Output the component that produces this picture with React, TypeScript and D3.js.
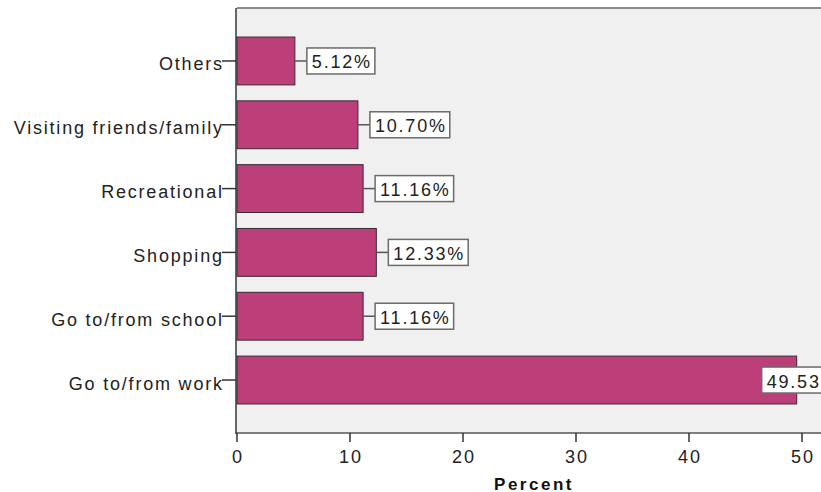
import React from "react";
import * as d3 from "d3";

const categories = [
  "Others",
  "Visiting friends/family",
  "Recreational",
  "Shopping",
  "Go to/from school",
  "Go to/from work",
];
const values = [5.12, 10.7, 11.16, 12.33, 11.16, 49.53];
const xTicks = [0, 10, 20, 30, 40, 50];

const W = 821;
const H = 492;
const FONT = "'Liberation Sans', Arial, sans-serif";
const FS = 18;
const LS = 1.8;

function measure(text: string, bold = false): number {
  const c = document.createElement("canvas").getContext("2d");
  if (!c) return text.length * 10;
  c.font = `${bold ? "bold " : ""}${FS}px 'Liberation Sans', Arial, sans-serif`;
  return c.measureText(text).width + LS * text.length;
}

export default function App() {
  const plotLeft = 237;
  const plotRight = 832;
  const plotTop = 8;
  const plotBottom = 433;

  const x = d3.scaleLinear().domain([0, 50]).range([237, 802]);
  const y = d3
    .scaleBand<string>()
    .domain(categories)
    .range([plotTop, plotBottom])
    .paddingInner(0.25)
    .paddingOuter(0.455);

  const barColor = "#bc3f7a";
  const textColor = "#222";

  return (
    <svg
      width={W}
      height={H}
      style={{ position: "absolute", left: 0, top: 0, background: "#fff" }}
      fontFamily={FONT}
    >
      <rect x={plotLeft} y={plotTop} width={plotRight - plotLeft} height={plotBottom - plotTop} fill="#f0f0f0" />
      <line x1={plotLeft} x2={plotRight} y1={plotTop} y2={plotTop} stroke="#8a8a8a" strokeWidth={2} />

      {categories.map((c, i) => {
        const y0 = y(c)!;
        return (
          <rect
            key={c}
            x={x(0)}
            y={y0}
            width={x(values[i]) - x(0)}
            height={y.bandwidth()}
            fill={barColor}
            stroke="#3a2a30"
            strokeWidth={1}
          />
        );
      })}

      {/* axes */}
      <line x1={plotLeft - 1} x2={plotRight} y1={plotBottom} y2={plotBottom} stroke="#555" strokeWidth={1.5} />
      <line x1={plotLeft - 1} x2={plotLeft - 1} y1={plotTop} y2={plotBottom + 1} stroke="#333" strokeWidth={1.5} />

      {xTicks.map((t) => (
        <g key={t} transform={`translate(${x(t)},0)`}>
          <line y1={plotBottom} y2={plotBottom + 9} stroke="#333" strokeWidth={1.5} />
          <text
            y={463}
            textAnchor="middle"
            fontSize={FS}
            letterSpacing={LS}
            fill={textColor}
            dx={LS / 2}
          >
            {t}
          </text>
        </g>
      ))}

      {categories.map((c) => {
        const cy = y(c)! + y.bandwidth() / 2;
        return (
          <g key={c}>
            <line x1={plotLeft - 15} x2={plotLeft - 1} y1={cy} y2={cy} stroke="#333" strokeWidth={1.5} />
            <text
              x={plotLeft - 15 + LS}
              y={cy + 9.5}
              textAnchor="end"
              fontSize={FS}
              letterSpacing={LS}
              fill={textColor}
            >
              {c}
            </text>
          </g>
        );
      })}

      {categories.map((c, i) => {
        const cy = y(c)! + y.bandwidth() / 2;
        const end = x(values[i]);
        const label = `${values[i].toFixed(2)}%`;
        const tw = measure(label);
        const bw = tw + 8;
        const bh = 26;
        const gap = 12;
        const fits = end + gap + bw <= W;
        const bx = fits ? end + gap : end - 35;
        return (
          <g key={c}>
            {fits && <line x1={end} x2={bx} y1={cy} y2={cy} stroke="#555" strokeWidth={1.5} />}
            <rect x={bx} y={cy - bh / 2} width={bw} height={bh} fill="#fff" stroke="#6a6a6a" strokeWidth={1.5} />
            <text x={bx + 5} y={cy + 7.5} fontSize={FS} letterSpacing={LS} fill={textColor}>
              {label}
            </text>
          </g>
        );
      })}

      <text
        x={534}
        y={490}
        textAnchor="middle"
        fontSize={FS - 1}
        fontWeight="bold"
        letterSpacing={2.5}
        fill="#111"
      >
        Percent
      </text>
    </svg>
  );
}
